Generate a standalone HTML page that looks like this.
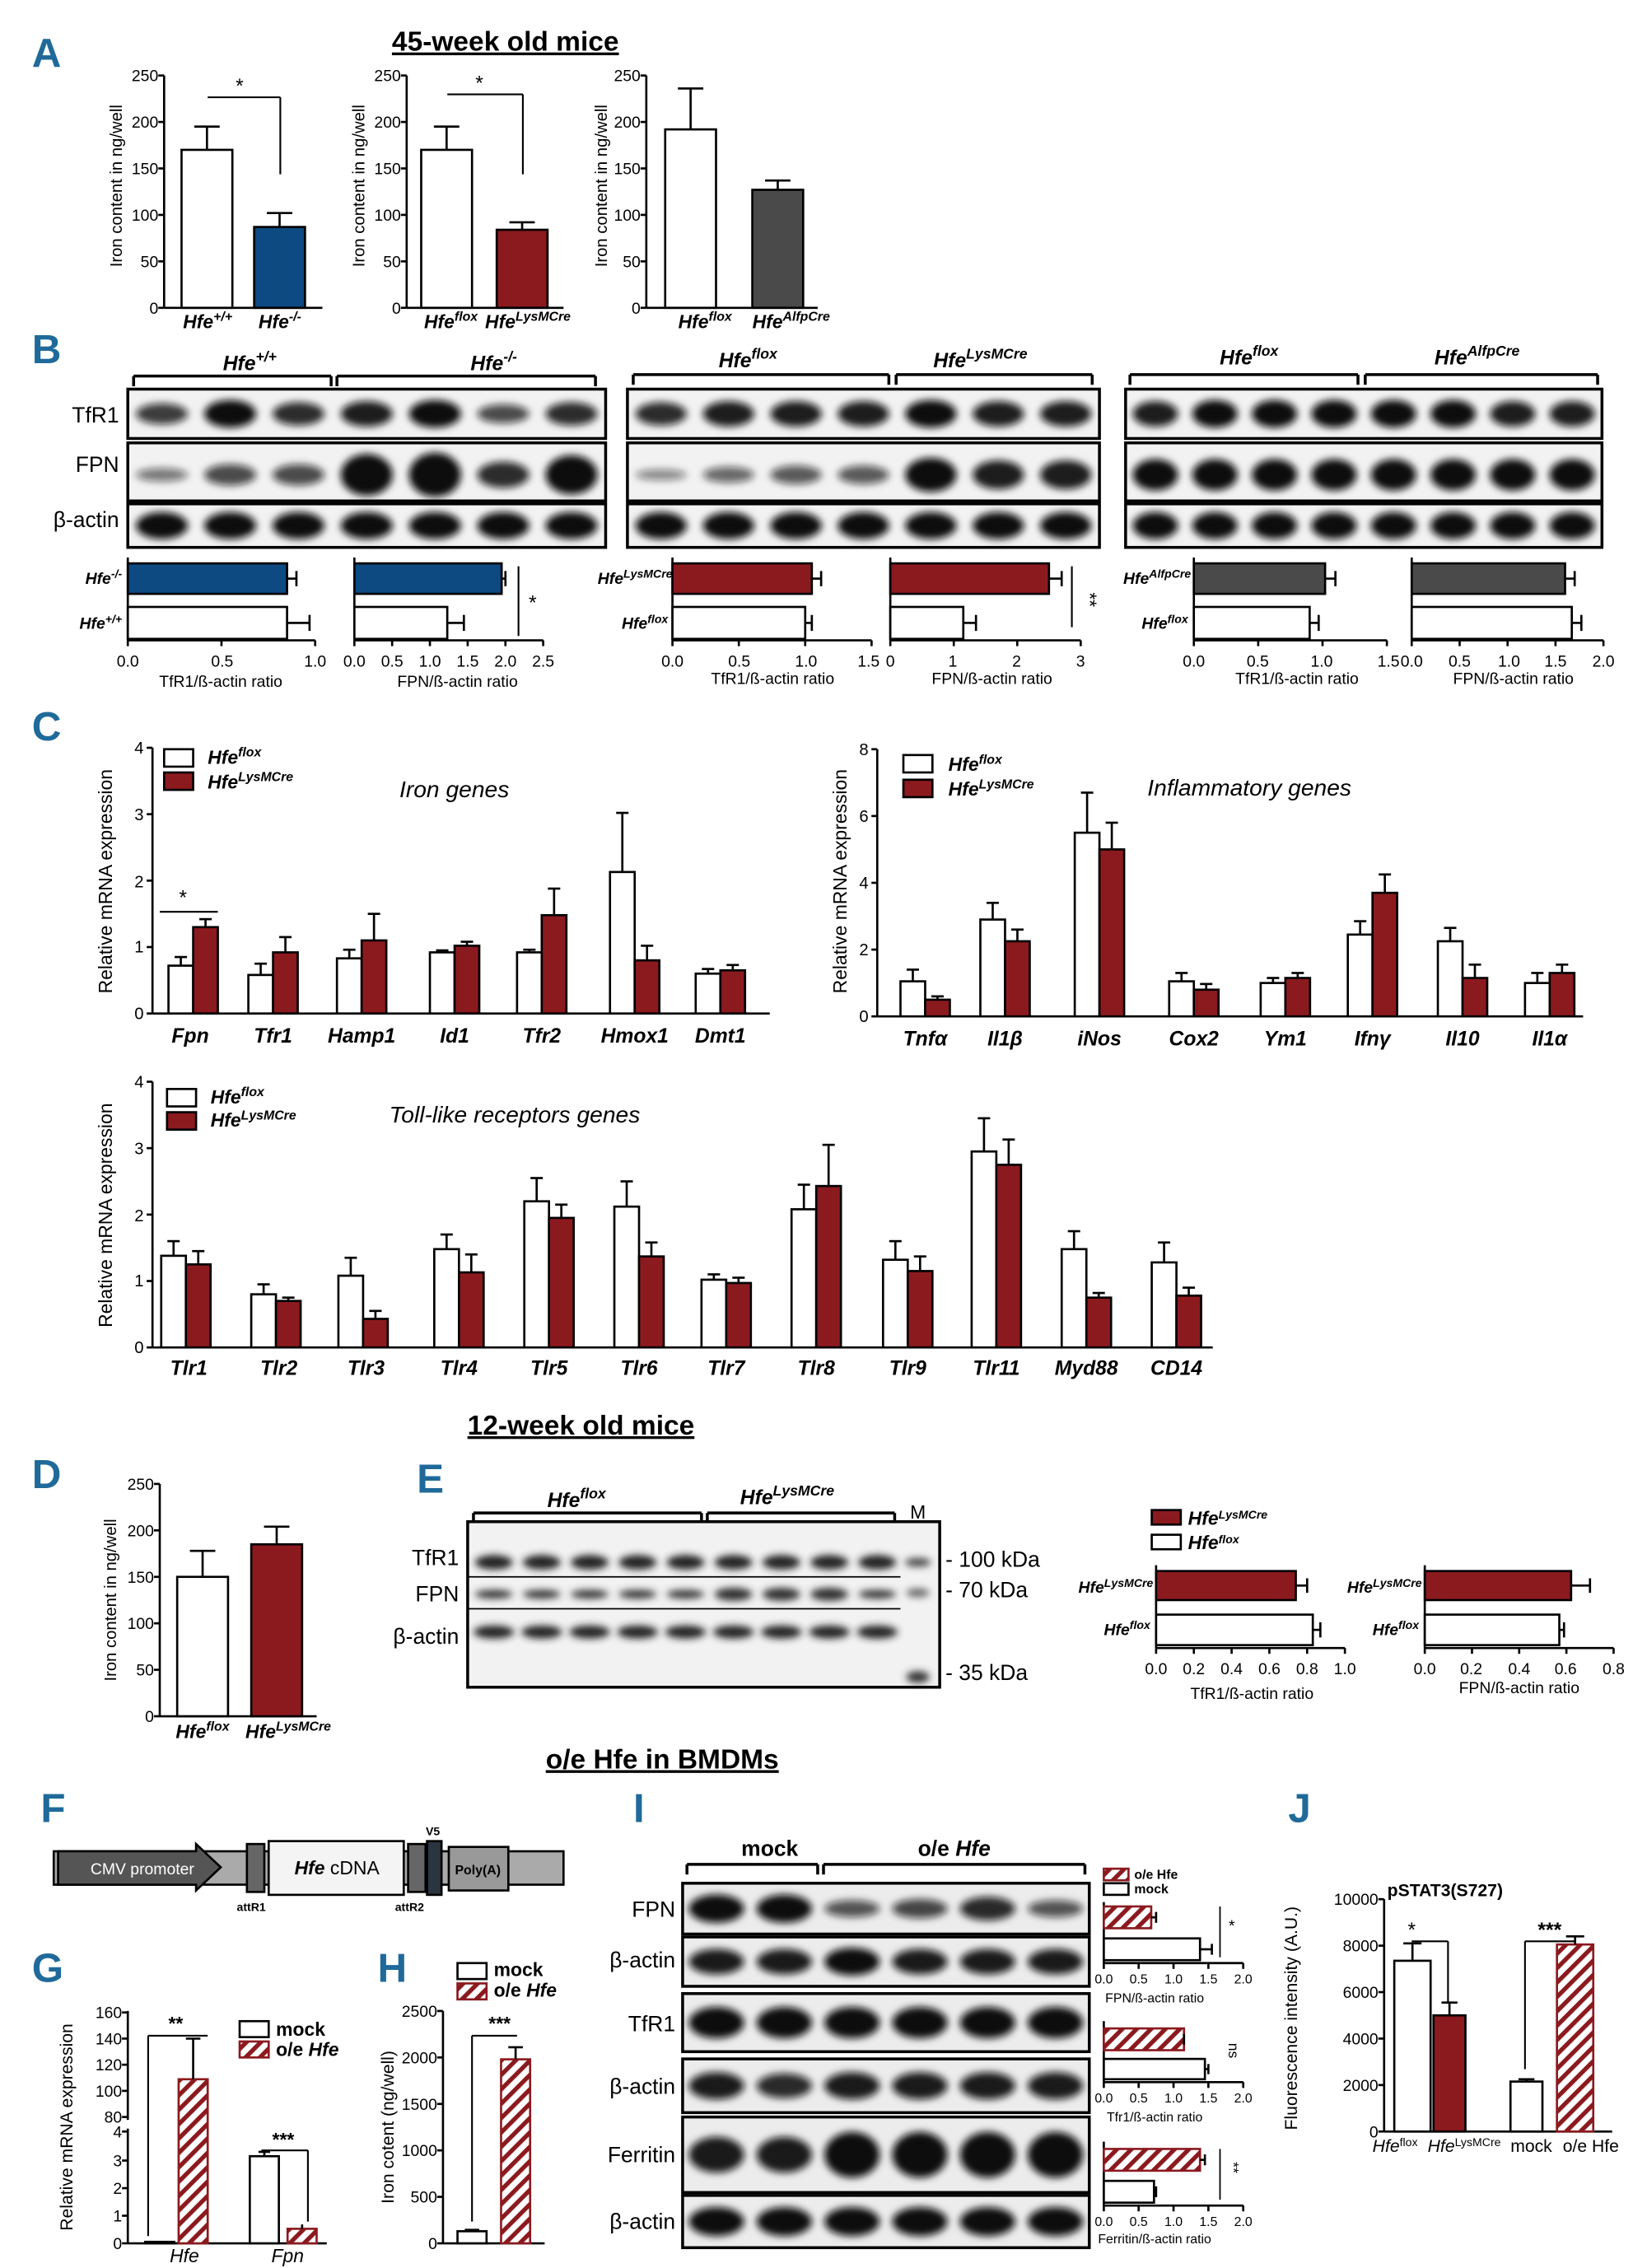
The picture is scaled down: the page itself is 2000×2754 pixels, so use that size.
<!DOCTYPE html>
<html><head><meta charset="utf-8"><style>
html,body{margin:0;padding:0;background:#fff}
svg{display:block}
text{font-family:"Liberation Sans",sans-serif;fill:#000}
.t{font-size:11px}
.ti{font-size:13px;font-style:italic;font-weight:bold}
.lab{font-size:28px;font-weight:bold;fill:#1f6a9a}
.ax{font-size:11.5px}
.g{font-size:14px;font-style:italic;font-weight:bold}
</style></head><body>
<svg id="s" width="2000" height="2754" viewBox="0 0 1134 1562" preserveAspectRatio="none" xmlns="http://www.w3.org/2000/svg">
<defs>
<pattern id="h" width="7" height="7" patternUnits="userSpaceOnUse" patternTransform="rotate(45)"><rect width="7" height="7" fill="#fff"/><rect width="3" height="7" fill="#8b1a1f"/></pattern>
<filter id="bl" x="-20%" y="-50%" width="140%" height="200%"><feGaussianBlur stdDeviation="2.5"/></filter>
</defs>
<g id="shapes" stroke="#000" fill="none" stroke-width="1.5"></g>

<text class="lab" x="22" y="46">A</text>
<text class="lab" x="22" y="250">B</text>
<text class="lab" x="22" y="510">C</text>
<text class="lab" x="22" y="1025">D</text>
<text class="lab" x="287" y="1028">E</text>
<text class="lab" x="28" y="1255">F</text>
<text class="lab" x="22" y="1365">G</text>
<text class="lab" x="260" y="1365">H</text>
<text class="lab" x="436" y="1255">I</text>
<text class="lab" x="887" y="1255">J</text>

<text x="348" y="35" text-anchor="middle" font-size="19" font-weight="bold" text-decoration="underline">45-week old mice</text>
<text x="400" y="988" text-anchor="middle" font-size="19" font-weight="bold" text-decoration="underline">12-week old mice</text>
<text x="456" y="1218" text-anchor="middle" font-size="19" font-weight="bold" text-decoration="underline">o/e Hfe in BMDMs</text>

<!-- A -->
<g font-size="11" text-anchor="end">
<text x="109" y="56">250</text><text x="109" y="88">200</text><text x="109" y="120">150</text><text x="109" y="152">100</text><text x="109" y="184">50</text><text x="109" y="216">0</text>
<text x="276" y="56">250</text><text x="276" y="88">200</text><text x="276" y="120">150</text><text x="276" y="152">100</text><text x="276" y="184">50</text><text x="276" y="216">0</text>
<text x="441" y="56">250</text><text x="441" y="88">200</text><text x="441" y="120">150</text><text x="441" y="152">100</text><text x="441" y="184">50</text><text x="441" y="216">0</text>
</g>
<text class="ax" transform="translate(84,128) rotate(-90)" text-anchor="middle">Iron content in ng/well</text>
<text class="ax" transform="translate(251,128) rotate(-90)" text-anchor="middle">Iron content in ng/well</text>
<text class="ax" transform="translate(418,128) rotate(-90)" text-anchor="middle">Iron content in ng/well</text>
<text x="165" y="64" font-size="14" text-anchor="middle">*</text>
<text x="330" y="62" font-size="14" text-anchor="middle">*</text>
<text class="ti" x="126" y="226">Hfe<tspan font-size="9" dy="-5">+/+</tspan></text>
<text class="ti" x="178" y="226">Hfe<tspan font-size="9" dy="-5">-/-</tspan></text>
<text class="ti" x="292" y="226">Hfe<tspan font-size="9" dy="-5">flox</tspan></text>
<text class="ti" x="334" y="226">Hfe<tspan font-size="9" dy="-5">LysMCre</tspan></text>
<text class="ti" x="467" y="226">Hfe<tspan font-size="9" dy="-5">flox</tspan></text>
<text class="ti" x="518" y="226">Hfe<tspan font-size="9" dy="-5">AlfpCre</tspan></text>

<!-- B headers -->
<text class="g" x="172" y="255" text-anchor="middle">Hfe<tspan font-size="10" dy="-6">+/+</tspan></text>
<text class="g" x="340" y="255" text-anchor="middle">Hfe<tspan font-size="10" dy="-6">-/-</tspan></text>
<text class="g" x="515" y="253" text-anchor="middle">Hfe<tspan font-size="10" dy="-6">flox</tspan></text>
<text class="g" x="675" y="253" text-anchor="middle">Hfe<tspan font-size="10" dy="-6">LysMCre</tspan></text>
<text class="g" x="860" y="251" text-anchor="middle">Hfe<tspan font-size="10" dy="-6">flox</tspan></text>
<text class="g" x="1017" y="251" text-anchor="middle">Hfe<tspan font-size="10" dy="-6">AlfpCre</tspan></text>
<g font-size="15" text-anchor="end"><text x="82" y="291">TfR1</text><text x="82" y="325">FPN</text><text x="82" y="363">β-actin</text></g>
<g font-size="11" font-style="italic" font-weight="bold" text-anchor="end">
<text x="84" y="402">Hfe<tspan font-size="8" dy="-4">-/-</tspan></text><text x="84" y="433">Hfe<tspan font-size="8" dy="-4">+/+</tspan></text>
<text x="463" y="402">Hfe<tspan font-size="8" dy="-4">LysMCre</tspan></text><text x="460" y="433">Hfe<tspan font-size="8" dy="-4">flox</tspan></text>
<text x="820" y="402">Hfe<tspan font-size="8" dy="-4">AlfpCre</tspan></text><text x="818" y="433">Hfe<tspan font-size="8" dy="-4">flox</tspan></text>
</g>
<g font-size="11" text-anchor="middle">
<text x="88" y="459">0.0</text><text x="153" y="459">0.5</text><text x="217" y="459">1.0</text>
<text x="244" y="459">0.0</text><text x="270" y="459">0.5</text><text x="296" y="459">1.0</text><text x="322" y="459">1.5</text><text x="348" y="459">2.0</text><text x="374" y="459">2.5</text>
<text x="152" y="473">TfR1/ß-actin ratio</text><text x="315" y="473">FPN/ß-actin ratio</text>
<text x="463" y="459">0.0</text><text x="509" y="459">0.5</text><text x="555" y="459">1.0</text><text x="598" y="459">1.5</text>
<text x="613" y="459">0</text><text x="656" y="459">1</text><text x="700" y="459">2</text><text x="744" y="459">3</text>
<text x="532" y="471">TfR1/ß-actin ratio</text><text x="683" y="471">FPN/ß-actin ratio</text>
<text x="822" y="459">0.0</text><text x="866" y="459">0.5</text><text x="910" y="459">1.0</text><text x="956" y="459">1.5</text>
<text x="972" y="459">0.0</text><text x="1005" y="459">0.5</text><text x="1039" y="459">1.0</text><text x="1071" y="459">1.5</text><text x="1104" y="459">2.0</text>
<text x="893" y="471">TfR1/ß-actin ratio</text><text x="1042" y="471">FPN/ß-actin ratio</text>
</g>
<text x="364" y="420" font-size="14">*</text>
<text x="742" y="412" font-size="13" transform="rotate(90,746,412)">**</text>

<!-- C1 -->
<g class="ax" text-anchor="end"><text x="99" y="519">4</text><text x="99" y="565">3</text><text x="99" y="611">2</text><text x="99" y="656">1</text><text x="99" y="702">0</text></g>
<text font-size="13" transform="translate(77,607) rotate(-90)" text-anchor="middle">Relative mRNA expression</text>
<text class="ti" x="143" y="526">Hfe<tspan font-size="9" dy="-5">flox</tspan></text>
<text class="ti" x="143" y="543">Hfe<tspan font-size="9" dy="-5">LysMCre</tspan></text>
<text x="275" y="549" font-size="16" font-style="italic">Iron genes</text>
<text x="126" y="623" font-size="14" text-anchor="middle">*</text>
<g class="g" text-anchor="middle"><text x="131" y="718">Fpn</text><text x="188" y="718">Tfr1</text><text x="249" y="718">Hamp1</text><text x="313" y="718">Id1</text><text x="373" y="718">Tfr2</text><text x="437" y="718">Hmox1</text><text x="496" y="718">Dmt1</text></g>
<!-- C2 -->
<g class="ax" text-anchor="end"><text x="598" y="520">8</text><text x="598" y="566">6</text><text x="598" y="612">4</text><text x="598" y="658">2</text><text x="598" y="704">0</text></g>
<text font-size="13" transform="translate(583,607) rotate(-90)" text-anchor="middle">Relative mRNA expression</text>
<text class="ti" x="653" y="531">Hfe<tspan font-size="9" dy="-5">flox</tspan></text>
<text class="ti" x="653" y="548">Hfe<tspan font-size="9" dy="-5">LysMCre</tspan></text>
<text x="790" y="548" font-size="16" font-style="italic">Inflammatory genes</text>
<g class="g" text-anchor="middle"><text x="637" y="720">Tnfα</text><text x="692" y="720">Il1β</text><text x="757" y="720">iNos</text><text x="822" y="720">Cox2</text><text x="885" y="720">Ym1</text><text x="945" y="720">Ifnγ</text><text x="1007" y="720">Il10</text><text x="1067" y="720">Il1α</text></g>
<!-- C3 -->
<g class="ax" text-anchor="end"><text x="99" y="749">4</text><text x="99" y="795">3</text><text x="99" y="841">2</text><text x="99" y="886">1</text><text x="99" y="932">0</text></g>
<text font-size="13" transform="translate(77,837) rotate(-90)" text-anchor="middle">Relative mRNA expression</text>
<text class="ti" x="145" y="760">Hfe<tspan font-size="9" dy="-5">flox</tspan></text>
<text class="ti" x="145" y="776">Hfe<tspan font-size="9" dy="-5">LysMCre</tspan></text>
<text x="268" y="773" font-size="16" font-style="italic">Toll-like receptors genes</text>
<g class="g" text-anchor="middle"><text x="130" y="947">Tlr1</text><text x="192" y="947">Tlr2</text><text x="252" y="947">Tlr3</text><text x="316" y="947">Tlr4</text><text x="378" y="947">Tlr5</text><text x="440" y="947">Tlr6</text><text x="500" y="947">Tlr7</text><text x="562" y="947">Tlr8</text><text x="625" y="947">Tlr9</text><text x="686" y="947">Tlr11</text><text x="748" y="947">Myd88</text><text x="810" y="947">CD14</text></g>

<!-- D -->
<g font-size="11" text-anchor="end"><text x="106" y="1026">250</text><text x="106" y="1058">200</text><text x="106" y="1090">150</text><text x="106" y="1122">100</text><text x="106" y="1154">50</text><text x="106" y="1186">0</text></g>
<text class="ax" transform="translate(80,1102) rotate(-90)" text-anchor="middle">Iron content in ng/well</text>
<text class="ti" x="121" y="1197">Hfe<tspan font-size="9" dy="-5">flox</tspan></text>
<text class="ti" x="169" y="1197">Hfe<tspan font-size="9" dy="-5">LysMCre</tspan></text>
<!-- E -->
<text class="g" x="397" y="1038" text-anchor="middle">Hfe<tspan font-size="10" dy="-6">flox</tspan></text>
<text class="g" x="542" y="1036" text-anchor="middle">Hfe<tspan font-size="10" dy="-6">LysMCre</tspan></text>
<text x="632" y="1046" font-size="13" text-anchor="middle">M</text>
<g font-size="15"><text x="651" y="1079">- 100 kDa</text><text x="651" y="1100">- 70 kDa</text><text x="651" y="1157">- 35 kDa</text></g>
<g font-size="15" text-anchor="end"><text x="316" y="1078">TfR1</text><text x="316" y="1103">FPN</text><text x="316" y="1132">β-actin</text></g>
<text class="ti" font-size="11" x="818" y="1050">Hfe<tspan font-size="8" dy="-4">LysMCre</tspan></text>
<text class="ti" font-size="11" x="818" y="1067">Hfe<tspan font-size="8" dy="-4">flox</tspan></text>
<g font-size="11" font-style="italic" font-weight="bold" text-anchor="end">
<text x="794" y="1097">Hfe<tspan font-size="8" dy="-4">LysMCre</tspan></text><text x="792" y="1126">Hfe<tspan font-size="8" dy="-4">flox</tspan></text>
<text x="979" y="1097">Hfe<tspan font-size="8" dy="-4">LysMCre</tspan></text><text x="977" y="1126">Hfe<tspan font-size="8" dy="-4">flox</tspan></text>
</g>
<g font-size="11" text-anchor="middle">
<text x="796" y="1153">0.0</text><text x="822" y="1153">0.2</text><text x="848" y="1153">0.4</text><text x="874" y="1153">0.6</text><text x="900" y="1153">0.8</text><text x="926" y="1153">1.0</text>
<text x="981" y="1153">0.0</text><text x="1013" y="1153">0.2</text><text x="1046" y="1153">0.4</text><text x="1078" y="1153">0.6</text><text x="1111" y="1153">0.8</text>
<text x="862" y="1170">TfR1/ß-actin ratio</text><text x="1046" y="1166">FPN/ß-actin ratio</text>
</g>

<!-- F -->
<text x="98" y="1291" font-size="11" text-anchor="middle" style="fill:#fff">CMV promoter</text>
<text x="232" y="1291" font-size="13" text-anchor="middle"><tspan font-style="italic" font-weight="bold">Hfe</tspan> cDNA</text>
<text x="329" y="1291" font-size="9" text-anchor="middle" font-weight="bold">Poly(A)</text>
<text x="173" y="1316" font-size="8" font-weight="bold" text-anchor="middle">attR1</text>
<text x="282" y="1316" font-size="8" font-weight="bold" text-anchor="middle">attR2</text>
<text x="298" y="1264" font-size="8" font-weight="bold" text-anchor="middle">V5</text>

<!-- G -->
<g font-size="11" text-anchor="end"><text x="84" y="1390">160</text><text x="84" y="1408">140</text><text x="84" y="1426">120</text><text x="84" y="1444">100</text><text x="84" y="1462">80</text>
<text x="84" y="1472">4</text><text x="84" y="1492">3</text><text x="84" y="1511">2</text><text x="84" y="1530">1</text><text x="84" y="1549">0</text></g>
<text font-size="12" transform="translate(50,1465) rotate(-90)" text-anchor="middle">Relative mRNA expression</text>
<text x="121" y="1398" font-size="13" text-anchor="middle" font-weight="bold">**</text>
<text x="195" y="1478" font-size="13" text-anchor="middle" font-weight="bold">***</text>
<text x="190" y="1402" font-size="13" font-weight="bold">mock</text>
<text x="190" y="1416" font-size="13" font-weight="bold">o/e <tspan font-style="italic">Hfe</tspan></text>
<text x="127" y="1558" font-size="13" font-style="italic" text-anchor="middle">Hfe</text>
<text x="198" y="1558" font-size="13" font-style="italic" text-anchor="middle">Fpn</text>
<!-- H -->
<g font-size="11" text-anchor="end"><text x="301" y="1389">2500</text><text x="301" y="1421">2000</text><text x="301" y="1453">1500</text><text x="301" y="1485">1000</text><text x="301" y="1517">500</text><text x="301" y="1549">0</text></g>
<text font-size="12" transform="translate(271,1465) rotate(-90)" text-anchor="middle">Iron cotent (ng/well)</text>
<text x="340" y="1361" font-size="13" font-weight="bold">mock</text>
<text x="340" y="1375" font-size="13" font-weight="bold">o/e <tspan font-style="italic">Hfe</tspan></text>
<text x="344" y="1398" font-size="13" text-anchor="middle" font-weight="bold">***</text>

<!-- I -->
<text x="530" y="1278" font-size="15" font-weight="bold" text-anchor="middle">mock</text>
<text x="657" y="1278" font-size="15" font-weight="bold" text-anchor="middle">o/e <tspan font-style="italic">Hfe</tspan></text>
<g font-size="15" text-anchor="end"><text x="465" y="1320">FPN</text><text x="465" y="1355">β-actin</text><text x="465" y="1399">TfR1</text><text x="465" y="1442">β-actin</text><text x="465" y="1489">Ferritin</text><text x="465" y="1535">β-actin</text></g>
<g font-size="9" font-weight="bold"><text x="781" y="1294">o/e Hfe</text><text x="781" y="1304">mock</text></g>
<g font-size="9" text-anchor="middle">
<text x="760" y="1366">0.0</text><text x="784" y="1366">0.5</text><text x="808" y="1366">1.0</text><text x="832" y="1366">1.5</text><text x="856" y="1366">2.0</text><text x="795" y="1379">FPN/ß-actin ratio</text>
<text x="760" y="1448">0.0</text><text x="784" y="1448">0.5</text><text x="808" y="1448">1.0</text><text x="832" y="1448">1.5</text><text x="856" y="1448">2.0</text><text x="795" y="1461">Tfr1/ß-actin ratio</text>
<text x="760" y="1533">0.0</text><text x="784" y="1533">0.5</text><text x="808" y="1533">1.0</text><text x="832" y="1533">1.5</text><text x="856" y="1533">2.0</text><text x="795" y="1545">Ferritin/ß-actin ratio</text>
</g>
<text x="846" y="1330" font-size="11">*</text>
<text x="843" y="1410" font-size="10" transform="rotate(90,846,1410)">ns</text>
<text x="843" y="1492" font-size="10" transform="rotate(90,846,1492)">**</text>

<!-- J -->
<text x="995" y="1306" font-size="12" font-weight="bold" text-anchor="middle">pSTAT3(S727)</text>
<g font-size="11" text-anchor="end"><text x="949" y="1312">10000</text><text x="949" y="1344">8000</text><text x="949" y="1376">6000</text><text x="949" y="1408">4000</text><text x="949" y="1440">2000</text><text x="949" y="1472">0</text></g>
<text font-size="12" transform="translate(893,1390) rotate(-90)" text-anchor="middle">Fluorescence intensity (A.U.)</text>
<text x="972" y="1334" font-size="14" text-anchor="middle">*</text>
<text x="1067" y="1334" font-size="14" text-anchor="middle" font-weight="bold">***</text>
<g font-size="12"><text x="945" y="1482"><tspan font-style="italic">Hfe</tspan><tspan font-size="8" dy="-4">flox</tspan></text><text x="983" y="1482"><tspan font-style="italic">Hfe</tspan><tspan font-size="8" dy="-4">LysMCre</tspan></text><text x="1040" y="1482">mock</text><text x="1076" y="1482">o/e Hfe</text></g>
</svg>
<script>
const S=document.getElementById('shapes');const NS='http://www.w3.org/2000/svg';
function el(t,a,p){const e=document.createElementNS(NS,t);for(const k in a)e.setAttribute(k,a[k]);(p||S).appendChild(e);return e;}
function ln(x1,y1,x2,y2,w){el('line',{x1,y1,x2,y2,'stroke-width':w||1.5});}
const W='#fff',BL='#0d4a82',RD='#8b1a1f',GR='#4a4a4a',HT='url(#h)';
function vbar(x,w,y0,sc,v,e,f){const y=y0-v*sc;el('rect',{x,y,width:w,height:v*sc,fill:f,stroke:f==HT?RD:'#000'});if(e!=null){const ye=y0-e*sc;ln(x+w/2,y,x+w/2,ye);ln(x+w/2-w/4,ye,x+w/2+w/4,ye);}}
function yaxis(x,yt,yb,n,x2){ln(x,yt,x,yb);for(let i=0;i<=n;i++){const y=yt+(yb-yt)*i/n;ln(x-4,y,x,y);}if(x2)ln(x,yb,x2,yb);}
function hbar(x0,y,h,sc,v,e,f){el('rect',{x:x0,y,width:v*sc,height:h,fill:f,stroke:f==HT?RD:'#000'});if(e!=null){const xe=x0+e*sc;ln(x0+v*sc,y+h/2,xe,y+h/2);ln(xe,y+h/4,xe,y+3*h/4);}}
function xaxis(x0,y,ticks,step,ytop){ln(x0,ytop,x0,y);ln(x0,y,x0+ticks*step,y);for(let i=0;i<=ticks;i++)ln(x0+i*step,y,x0+i*step,y+4);}
yaxis(113,52,212,5,222);vbar(125,35,212,.64,170,195,W);vbar(175,35,212,.64,87,102,BL);ln(143,67,193,67,1.2);ln(193,67,193,120,1.2);
yaxis(280,52,212,5,388);vbar(290,35,212,.64,170,195,W);vbar(342,35,212,.64,84,92,RD);ln(308,65,360,65,1.2);ln(360,65,360,120,1.2);
yaxis(445,52,212,5,563);vbar(458,35,212,.64,192,236,W);vbar(518,35,212,.64,127,137,GR);
function blot(x,y,w,h,n,strength,yoff){el('rect',{x,y,width:w,height:h,fill:'#f2f2f2',stroke:'#000','stroke-width':2});const lw=w/n;const g=el('g',{filter:'url(#bl)'});for(let i=0;i<n;i++){const s=strength[i%strength.length];el('ellipse',{cx:x+lw*(i+.5),cy:y+h*(yoff||.5),rx:lw*.38,ry:h*.22*s+2,fill:'#111',stroke:'none',opacity:Math.min(1,.35+s*.65)},g);}}
function grp(x,w,n,tf,fp){blot(x,268,w,34,n,tf);blot(x,305,w,40,n,fp,.55);blot(x,347,w,30,n,[1.1]);}
grp(88,329,7,[.7,1,.8,.9,1,.6,.8],[.3,.6,.6,1.4,1.5,.8,1.3]);grp(432,325,7,[.8,.9,.9,.9,1,.9,.9],[.2,.4,.5,.5,1.1,.9,.9]);grp(775,328,8,[.9,1,1,1,1,1,.9,.9],[1,1,1,1,1,1,1,1]);
function brk(x1,x2,y){ln(x1,y+7,x1,y,2);ln(x1,y,x2,y,2);ln(x2,y,x2,y+7,2);}
brk(92,228,259);brk(232,410,259);brk(436,612,258);brk(617,752,258);brk(778,935,258);brk(940,1100,258);
xaxis(88,441,2,64.5,384);hbar(88,388,21,129,.85,.9,BL);hbar(88,418,22,129,.85,.97,W);
xaxis(244,441,5,26,384);hbar(244,388,21,52,1.95,2.0,BL);hbar(244,418,22,52,1.23,1.45,W);ln(357,390,357,438,1.2);
xaxis(463,441,3,45.7,384);hbar(463,388,21,91.4,1.05,1.12,RD);hbar(463,418,22,91.4,1.0,1.05,W);
xaxis(613,441,3,43.7,384);hbar(613,388,21,43.7,2.5,2.7,RD);hbar(613,418,22,43.7,1.15,1.35,W);ln(738,390,738,432,1.2);
xaxis(822,441,3,44.3,384);hbar(822,388,21,88.6,1.02,1.1,GR);hbar(822,418,22,88.6,.9,.97,W);
xaxis(972,441,4,33,384);hbar(972,388,21,66,1.6,1.7,GR);hbar(972,418,22,66,1.67,1.77,W);
function cchart(x0,y0,top,n,xend,sc,centers,data,w){yaxis(x0,top,y0,n,xend);centers.forEach((c,i)=>{const d=data[i];vbar(c-w,w,y0,sc,d[0],d[1],W);vbar(c,w,y0,sc,d[2],d[3],RD);});}
cchart(105,698,515,4,530,45.75,[133,188,249,313,373,437,496],[[.72,.85,1.3,1.42],[.58,.75,.92,1.15],[.83,.96,1.1,1.5],[.92,.95,1.02,1.08],[.92,.96,1.48,1.88],[2.13,3.02,.8,1.02],[.6,.67,.65,.73]],17);
ln(110,628,150,628,1.2);
el('rect',{x:113,y:516,width:20,height:12,fill:W,stroke:'#000'});el('rect',{x:113,y:532,width:20,height:12,fill:RD,stroke:'#000'});
cchart(604,700,516,4,1090,23,[637,692,757,822,885,945,1007,1067],[[1.05,1.4,.5,.6],[2.9,3.4,2.25,2.6],[5.5,6.7,5,5.8],[1.05,1.3,.8,.97],[1,1.15,1.15,1.3],[2.45,2.85,3.7,4.25],[2.25,2.65,1.15,1.55],[1,1.3,1.3,1.55]],17);
el('rect',{x:622,y:520,width:20,height:12,fill:W,stroke:'#000'});el('rect',{x:622,y:537,width:20,height:12,fill:RD,stroke:'#000'});
cchart(105,928,745,4,835,45.75,[128,190,250,316,378,440,500,562,625,686,748,810],[[1.38,1.6,1.25,1.45],[.8,.95,.7,.75],[1.08,1.35,.43,.55],[1.48,1.7,1.13,1.4],[2.2,2.55,1.95,2.15],[2.12,2.5,1.37,1.58],[1.02,1.1,.97,1.05],[2.08,2.45,2.43,3.05],[1.32,1.6,1.15,1.37],[2.95,3.45,2.75,3.13],[1.48,1.75,.75,.82],[1.28,1.58,.78,.9]],17);
el('rect',{x:115,y:750,width:20,height:12,fill:W,stroke:'#000'});el('rect',{x:115,y:766,width:20,height:12,fill:RD,stroke:'#000'});
yaxis(110,1022,1182,5,218);vbar(122,35,1182,.64,150,178,W);vbar(173,35,1182,.64,185,204,RD);
el('rect',{x:322,y:1048,width:325,height:114,fill:'#f2f2f2',stroke:'#000','stroke-width':2});
(function(){const g=el('g',{filter:'url(#bl)'});for(let i=0;i<9;i++){const cx=340+i*33;el('ellipse',{cx,cy:1076,rx:13,ry:5,fill:'#222',stroke:'none'},g);el('ellipse',{cx,cy:1098,rx:13,ry:i>4&&i<8?4.5:3,fill:'#333',stroke:'none'},g);el('ellipse',{cx,cy:1124,rx:14,ry:4.5,fill:'#222',stroke:'none'},g);}el('ellipse',{cx:632,cy:1076,rx:9,ry:3,fill:'#444',stroke:'none'},g);el('ellipse',{cx:632,cy:1097,rx:8,ry:3,fill:'#666',stroke:'none'},g);el('ellipse',{cx:632,cy:1155,rx:8,ry:4,fill:'#333',stroke:'none'},g);})();
ln(322,1086,620,1086,1);ln(322,1108,620,1108,1);
brk(326,483,1042);brk(487,616,1042);
el('rect',{x:793,y:1040,width:20,height:10,fill:RD,stroke:'#000'});el('rect',{x:793,y:1057,width:20,height:10,fill:W,stroke:'#000'});
xaxis(796,1135,5,26,1078);hbar(796,1082,20,130,.74,.8,RD);hbar(796,1112,21,130,.83,.87,W);
xaxis(981,1135,4,32.5,1078);hbar(981,1082,20,162.5,.62,.7,RD);hbar(981,1112,21,162.5,.57,.59,W);
el('rect',{x:37,y:1275,width:351,height:23,fill:'#aaa',stroke:'#000'});
el('path',{d:'M40,1275 L135,1275 L135,1270 L152,1286 L135,1302 L135,1298 L40,1298 Z',fill:'#555',stroke:'#000'});
el('rect',{x:170,y:1270,width:12,height:33,fill:'#666',stroke:'#000'});
el('rect',{x:185,y:1268,width:93,height:37,fill:'#f4f4f4',stroke:'#000'});
el('rect',{x:281,y:1270,width:12,height:33,fill:'#666',stroke:'#000'});
el('rect',{x:294,y:1268,width:10,height:37,fill:'#2a3540',stroke:'#000'});
el('rect',{x:309,y:1272,width:41,height:30,fill:'#999',stroke:'#000'});
ln(88,1385,88,1460);ln(88,1466,88,1545);[1386,1404,1422,1440,1458,1468,1488,1507,1526,1545].forEach(y=>ln(84,y,88,y));ln(88,1545,225,1545);
el('rect',{x:100,y:1544,width:20,height:1,fill:W,stroke:'#000'});
el('rect',{x:123,y:1432,width:20,height:113,fill:HT,stroke:RD});ln(133,1432,133,1404,1.5);ln(128,1404,138,1404);
el('rect',{x:172,y:1485,width:20,height:60,fill:W,stroke:'#000'});ln(182,1485,182,1482);ln(178,1482,186,1482);
el('rect',{x:198,y:1535,width:20,height:10,fill:HT,stroke:RD});ln(208,1535,208,1532);
ln(102,1402,143,1402,1.2);ln(102,1402,102,1540,1.2);ln(180,1481,212,1481,1.2);ln(212,1481,212,1530,1.2);
el('rect',{x:165,y:1392,width:20,height:11,fill:W,stroke:'#000'});el('rect',{x:165,y:1406,width:20,height:11,fill:HT,stroke:RD});
yaxis(305,1385,1545,5,375);vbar(315,20,1545,.064,130,145,W);vbar(345,20,1545,.064,1980,2110,HT);ln(325,1402,356,1402,1.2);ln(325,1402,325,1530,1.2);
el('rect',{x:315,y:1352,width:20,height:11,fill:W,stroke:'#000'});el('rect',{x:315,y:1366,width:20,height:11,fill:HT,stroke:RD});
brk(473,563,1284);brk(567,747,1284);
function iblot(y,h,st){el('rect',{x:470,y,width:280,height:h,fill:'#ececec',stroke:'#000','stroke-width':2});const g=el('g',{filter:'url(#bl)'});for(let i=0;i<6;i++)el('ellipse',{cx:470+280/6*(i+.5),cy:y+h/2,rx:19,ry:h*.22*st[i]+2,fill:'#111',stroke:'none',opacity:Math.min(1,.4+st[i]*.6)},g);}
iblot(1297,35,[1,1,.5,.6,.8,.5]);iblot(1334,34,[.9,.9,1,.9,.9,.9]);iblot(1373,40,[1,1,1,1,1,1]);iblot(1418,37,[.9,.8,.9,.9,.9,.9]);iblot(1458,52,[.9,.9,1.2,1.2,1.2,1.2]);iblot(1512,36,[1,1,1,1,1,1]);
el('rect',{x:760,y:1287,width:17,height:8,fill:HT,stroke:RD});el('rect',{x:760,y:1297,width:17,height:8,fill:W,stroke:'#000'});
xaxis(760,1352,4,24,1310);hbar(760,1313,15,48,.68,.75,HT);hbar(760,1335,15,48,1.38,1.55,W);ln(840,1313,840,1348,1);
xaxis(760,1434,4,24,1392);hbar(760,1397,15,48,1.15,1.15,HT);hbar(760,1418,14,48,1.45,1.5,W);
xaxis(760,1519,4,24,1475);hbar(760,1480,15,48,1.38,1.45,HT);hbar(760,1502,15,48,.72,.75,W);ln(840,1480,840,1515,1);
yaxis(953,1308,1468,5,1110);vbar(960,25,1468,.016,7350,8100,W);vbar(987,22,1468,.016,5000,5550,RD);vbar(1040,22,1468,.016,2150,2250,W);vbar(1072,25,1468,.016,8050,8400,HT);
ln(972,1337,997,1337,1.2);ln(997,1337,997,1380,1.2);ln(1050,1337,1085,1337,1.2);ln(1050,1337,1050,1425,1.2);
</script>
</body></html>
